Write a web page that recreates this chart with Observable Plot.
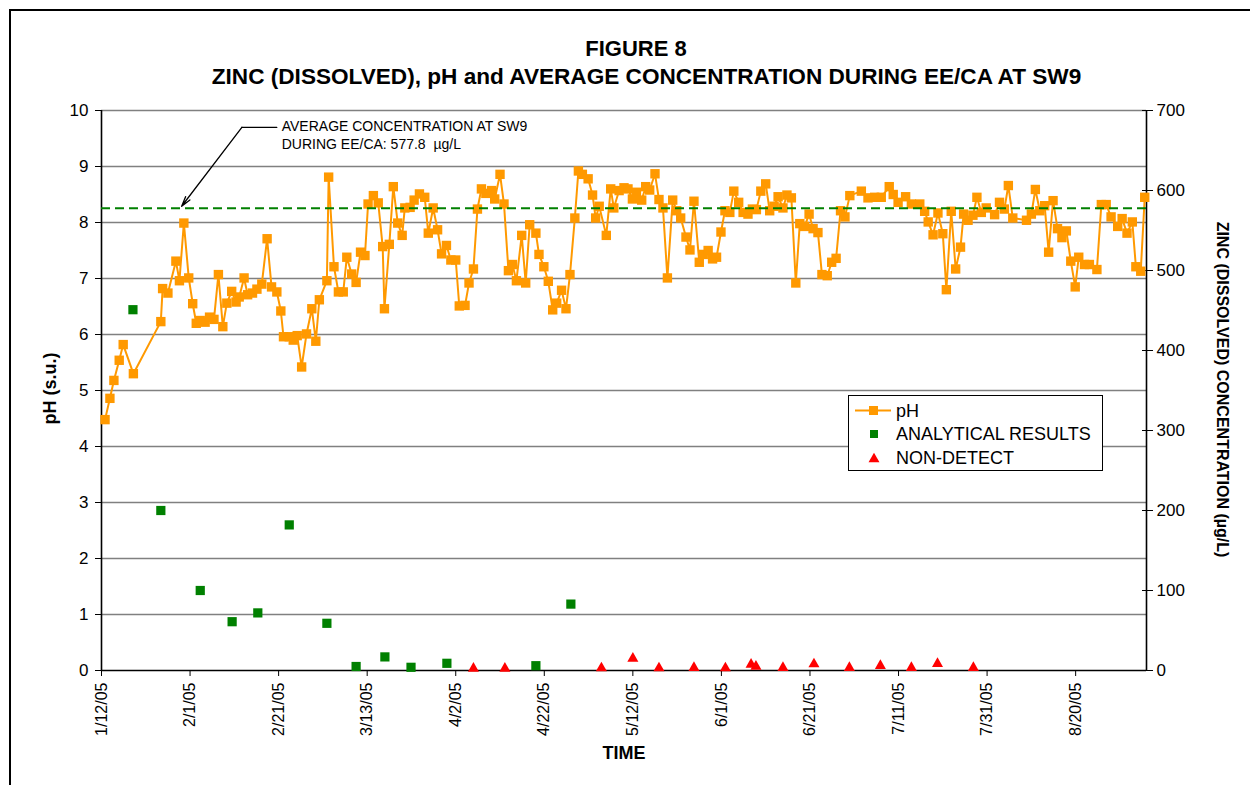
<!DOCTYPE html>
<html>
<head>
<meta charset="utf-8">
<script src="https://cdn.jsdelivr.net/npm/d3@7"></script>
<script src="https://cdn.jsdelivr.net/npm/@observablehq/plot@0.6"></script>
<style>
  body { margin: 0; background: #fff; }
  #wrap { position: relative; width: 1250px; height: 785px; overflow: hidden; font-family: "Liberation Sans", Arial, sans-serif; }
  #wrap svg.plot { position: absolute; left: 0; top: 0; }
  #border { position: absolute; left: 9px; top: 9px; width: 1300px; height: 800px; border-top: 2px solid #000; border-left: 2px solid #000; pointer-events: none; }
  #legend { position: absolute; left: 848px; top: 395px; width: 253px; height: 74px; border: 1px solid #000; background: #fff; }
</style>
</head>
<body>
<div id="wrap"><div id="border"></div></div>
<script>
// ---------- data ----------
const startLabel = "1/12/05";           // day 0 of the time axis
const axisEndDay = 236;                  // right edge of the time axis (days after start)
const xTickLabels = ["1/12/05","2/1/05","2/21/05","3/13/05","4/2/05","4/22/05","5/12/05","6/1/05","6/21/05","7/11/05","7/31/05","8/20/05"];
const yTicks = [0,1,2,3,4,5,6,7,8,9,10];
const rightTicks = [0,100,200,300,400,500,600,700];
const rightMax = 700;                    // right axis 0..700 µg/L spans left axis 0..10
const avgConc = 577.8;

// pH (s.u.), sample time in days after 1/12/05
const phDay = [0.8,1.9,2.8,4.0,4.9,7.2,13.4,13.8,15.0,16.8,17.6,18.6,19.7,20.6,21.4,22.3,23.4,24.4,25.4,26.4,27.4,28.3,29.4,30.4,31.1,32.2,33.0,34.1,35.1,36.2,37.4,38.4,39.6,40.5,41.1,42.4,43.3,44.2,45.2,46.3,47.5,48.4,49.2,50.9,51.3,52.5,53.5,54.6,
 55.4,56.5,57.5,58.5,59.5,60.2,61.4,62.5,63.5,63.9,65.0,65.9,66.9,67.9,68.5,69.7,70.6,71.8,73.0,73.8,74.9,75.9,76.8,77.9,78.9,80.0,80.8,82.1,83.0,84.0,84.9,85.8,86.8,88.1,88.8,90.0,90.9,91.9,92.8,93.7,94.9,95.8,96.7,98.1,98.8,99.9,100.9,101.9,102.8,103.9,104.9,105.8,106.9,107.7,108.6,109.9,110.9,111.6,112.4,
 114.0,115.0,115.7,116.9,118.0,118.9,119.9,120.8,122.0,122.9,123.8,125.0,125.9,126.8,127.8,129.0,129.9,130.8,132.0,132.9,133.8,135.0,135.9,137.0,138.0,138.9,139.9,140.8,141.9,142.8,143.9,144.9,146.0,147.0,147.9,148.9,150.0,150.9,151.9,152.8,153.9,154.8,155.8,156.8,157.7,158.8,159.8,160.7,161.8,162.7,163.9,164.9,165.9,166.9,167.9,169.0,
 171.6,173.1,174.6,176.1,177.9,178.8,179.9,181.6,182.9,184.8,185.9,186.7,187.8,188.9,190.0,190.8,191.9,192.9,194.0,194.7,195.7,196.8,197.7,198.7,199.8,201.7,202.8,203.9,204.8,205.8,208.9,210.0,210.9,211.9,213.0,213.9,214.9,215.9,216.9,217.9,218.9,219.9,220.7,222.0,223.1,224.8,225.8,226.9,228.0,229.5,230.5,231.6,232.8,233.6,234.7,235.6];
const phValue = [4.48,4.86,5.18,5.54,5.82,5.30,6.23,6.82,6.74,7.31,6.96,7.99,7.01,6.55,6.20,6.25,6.22,6.31,6.27,7.07,6.14,6.56,6.77,6.58,6.67,7.01,6.71,6.74,6.81,6.90,7.71,6.85,6.76,6.42,5.96,5.96,5.90,5.98,5.42,6.01,6.46,5.88,6.62,6.96,8.81,7.21,6.76,6.76,
 7.38,7.08,6.93,7.47,7.41,8.33,8.48,8.35,7.57,6.46,7.61,8.64,7.99,7.77,8.26,8.27,8.40,8.51,8.45,7.81,8.26,7.87,7.44,7.59,7.33,7.33,6.51,6.52,6.92,7.17,8.24,8.60,8.52,8.57,8.42,8.86,8.33,7.14,7.25,6.96,7.77,6.92,7.96,7.81,7.43,7.21,6.95,6.44,6.56,6.79,6.46,7.07,8.08,8.92,8.86,8.78,8.49,8.08,8.29,
 7.77,8.60,8.26,8.57,8.62,8.60,8.42,8.54,8.40,8.64,8.58,8.87,8.41,8.26,7.01,8.40,8.21,8.08,7.74,7.51,8.38,7.29,7.43,7.50,7.35,7.38,7.83,8.21,8.18,8.56,8.36,8.18,8.15,8.24,8.23,8.56,8.69,8.21,8.29,8.46,8.26,8.49,8.44,6.92,7.98,7.93,8.15,7.89,7.82,7.07,7.05,7.29,7.36,8.21,8.10,8.48,
 8.56,8.44,8.45,8.45,8.64,8.50,8.36,8.46,8.33,8.33,8.20,8.01,7.78,8.17,7.80,6.80,8.20,7.17,7.56,8.15,8.04,8.13,8.45,8.18,8.26,8.14,8.36,8.24,8.66,8.08,8.04,8.15,8.59,8.21,8.30,7.47,8.39,7.89,7.73,7.85,7.31,6.85,7.38,7.25,7.25,7.16,8.32,8.32,8.10,7.93,8.07,7.81,8.01,7.21,7.13,8.45];

// Dissolved zinc, analytical results (µg/L)
const zincDay = [7.1,13.4,22.3,29.5,35.3,42.4,50.9,57.5,64.0,69.9,78.0,98.1,106.0];
const zincValue = [451,200,100,61,72,182,59,5,17,4,9,6,83];

// Dissolved zinc, non-detects (µg/L)
const ndDay = [84.0,91.1,112.9,120.0,125.9,133.8,140.9,146.7,147.8,153.9,160.9,168.9,175.9,182.9,188.8,196.9];
const ndValue = [2.5,2.5,3,15,3,3.5,3,7.5,5,3.5,8,3.5,6,3.5,8.5,3.5];

// callout
const calloutText = ["AVERAGE CONCENTRATION AT SW9\nDURING EE/CA: 577.8  µg/L"];
const calloutTextDay = [40.7], calloutTextPH = [9.57];
const calloutElbowDay = [39.6, 31.7], calloutElbowPH = [9.70, 9.70];
const calloutTipDay = [18.1], calloutTipPH = [8.29];

const titleLines = ["FIGURE 8", "ZINC (DISSOLVED), pH and AVERAGE CONCENTRATION DURING EE/CA AT SW9"];
const legendItems = ["pH", "ANALYTICAL RESULTS", "NON-DETECT"];

// ---------- build ----------
const parse = d3.utcParse("%m/%d/%y");
const fmt = d3.utcFormat("%-m/%-d/%y");
const start = parse(startLabel);
const day = d => new Date(start.getTime() + d * 864e5);
const k = rightMax / 10;

const ph = phDay.map((d, i) => ({date: day(d), v: phValue[i]}));
const zinc = zincDay.map((d, i) => ({date: day(d), v: zincValue[i] / k}));
const nd = ndDay.map((d, i) => ({date: day(d), v: ndValue[i] / k}));
const elbow = calloutElbowDay.map((d, i) => ({date: day(d), v: calloutElbowPH[i]}));
const arrow = [{x1: day(calloutElbowDay[1]), y1: calloutElbowPH[1], x2: day(calloutTipDay[0]), y2: calloutTipPH[0]}];
const xTicks = xTickLabels.map(parse);

const ORANGE = "#FF9900", GREEN = "#008000", RED = "#FF0000";

const chart = Plot.plot({
  width: 1250, height: 785,
  marginTop: 110, marginBottom: 115, marginLeft: 101, marginRight: 104,
  style: {fontFamily: "Liberation Sans, Arial, sans-serif", background: "transparent", color: "#000", overflow: "visible"},
  x: {type: "utc", domain: [start, day(axisEndDay)]},
  y: {domain: [0, 10]},
  marks: [
    Plot.ruleY(yTicks.filter(v => v > 0), {stroke: "#808080", strokeWidth: 1.6}),
    Plot.axisY({ticks: yTicks, tickSize: 6, tickPadding: 7, fontSize: 17, label: null, stroke: "#000", fill: "#000"}),
    Plot.axisY({anchor: "right", ticks: rightTicks.map(v => v / k), tickFormat: d => String(Math.round(d * k)), tickSize: 11, dx: -5, tickPadding: 4, fontSize: 17, label: null, stroke: "#000", fill: "#000"}),
    Plot.axisX({ticks: xTicks, tickFormat: fmt, tickRotate: -90, tickSize: 6, tickPadding: 6, fontSize: 16, label: null, stroke: "#000", fill: "#000"}),
    Plot.ruleX([start], {stroke: "#000", strokeWidth: 1.6}),
    Plot.ruleX([day(axisEndDay)], {stroke: "#000", strokeWidth: 1.6}),
    Plot.ruleY([0], {stroke: "#000", strokeWidth: 1.6}),
    Plot.line(ph, {x: "date", y: "v", stroke: ORANGE, strokeWidth: 2}),
    Plot.dot(ph, {x: "date", y: "v", symbol: "square", r: 5.3, fill: ORANGE, stroke: "none"}),
    Plot.dot(zinc, {x: "date", y: "v", symbol: "square", r: 5.2, fill: GREEN, stroke: "none"}),
    Plot.dot(nd, {x: "date", y: "v", symbol: "triangle", r: 4.1, fill: RED, stroke: "none"}),
    Plot.ruleY([avgConc / k], {stroke: GREEN, strokeWidth: 2, strokeDasharray: "9,5"}),
    // callout
    Plot.line(elbow, {x: "date", y: "v", stroke: "#000", strokeWidth: 1.3}),
    Plot.arrow(arrow, {x1: "x1", y1: "y1", x2: "x2", y2: "y2", stroke: "#000", strokeWidth: 1.3, headLength: 12, headAngle: 30}),
    Plot.text(calloutText, {x: calloutTextDay.map(day), y: calloutTextPH, text: d => d, textAnchor: "start", lineAnchor: "middle", lineHeight: 1.25, fontSize: 14, fill: "#000"}),
    // titles
    Plot.text([titleLines[0]], {frameAnchor: "top", dx: 12, dy: -62, textAnchor: "middle", lineAnchor: "middle", fontSize: 22, fontWeight: "bold", fill: "#000"}),
    Plot.text([titleLines[1]], {frameAnchor: "top", dx: 22.5, dy: -34, textAnchor: "middle", lineAnchor: "middle", fontSize: 22.6, fontWeight: "bold", fill: "#000"}),
    Plot.text(["pH (s.u.)"], {frameAnchor: "left", dx: -51, dy: -2, rotate: -90, textAnchor: "middle", lineAnchor: "middle", fontSize: 18, fontWeight: "bold", fill: "#000"}),
    Plot.text(["ZINC (DISSOLVED) CONCENTRATION (µg/L)"], {frameAnchor: "right", dx: 76, dy: -1, rotate: 90, textAnchor: "middle", lineAnchor: "middle", fontSize: 16, fontWeight: "bold", fill: "#000"}),
    Plot.text(["TIME"], {frameAnchor: "bottom", dy: 83, textAnchor: "middle", lineAnchor: "middle", fontSize: 18, fontWeight: "bold", fill: "#000"})
  ]
});
chart.classList.add("plot");
const wrap = document.getElementById("wrap");
wrap.insertBefore(chart, wrap.firstChild);

// legend
const leg = d3.select(wrap).append("div").attr("id", "legend")
  .append("svg").attr("width", 253).attr("height", 74)
  .style("font-family", "Liberation Sans, Arial, sans-serif");
const rowY = [14.5, 38, 62];
leg.append("line").attr("x1", 6).attr("x2", 42).attr("y1", rowY[0]).attr("y2", rowY[0]).attr("stroke", ORANGE).attr("stroke-width", 2);
leg.append("rect").attr("x", 20).attr("y", rowY[0] - 4.5).attr("width", 9).attr("height", 9).attr("fill", ORANGE);
leg.append("rect").attr("x", 21).attr("y", rowY[1] - 4).attr("width", 8).attr("height", 8).attr("fill", GREEN);
leg.append("path").attr("d", d3.symbol(d3.symbolTriangle, 52)()).attr("transform", `translate(25,${rowY[2] + 1})`).attr("fill", RED);
leg.selectAll("text.lab").data(legendItems).join("text").attr("class", "lab")
  .attr("x", 47).attr("y", (d, i) => rowY[i]).attr("dy", "0.35em")
  .attr("font-size", 18).attr("fill", "#000").text(d => d);
</script>
</body>
</html>
